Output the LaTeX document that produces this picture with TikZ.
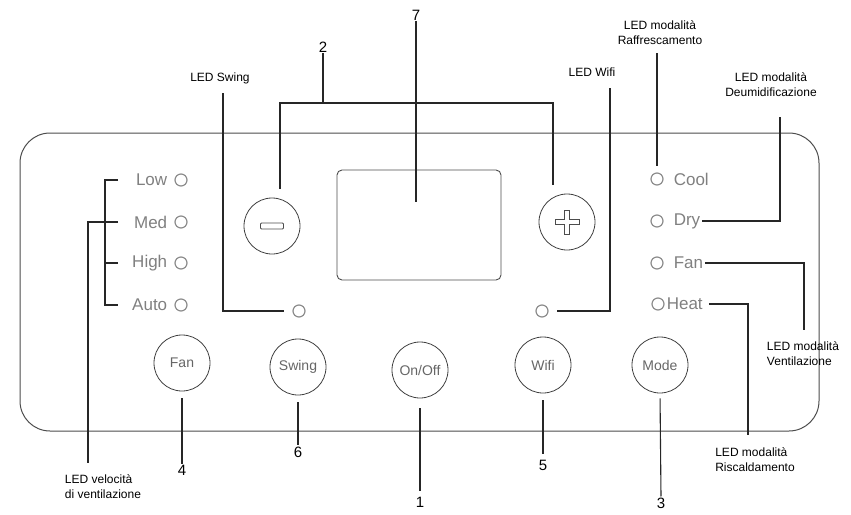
\documentclass[tikz,border=0pt]{standalone}
\usepackage{fontspec}
\setmainfont{Liberation Sans}
\usetikzlibrary{positioning}

\begin{document}
\begin{tikzpicture}
        [x=1pt, y=-1pt,
        node distance=4pt,
        lead/.style={line width=1.1pt, black!85},
        panel/.style={line width=1pt, draw=black!70},
        led/.style={circle, draw=black!45, line width=1.2pt, minimum size=12pt, inner sep=0pt},
        btn/.style={circle, draw=black!75, line width=0.8pt, minimum size=56pt, inner sep=0pt,
                font=\fontsize{14}{16}\selectfont, text=black!60},
        ledtxt/.style={font=\fontsize{17}{19}\selectfont, text=black!50, inner sep=2pt},
        callout/.style={font=\fontsize{12}{15}\selectfont, inner sep=1pt},
        num/.style={font=\fontsize{15}{17}\selectfont, inner sep=1pt}]

        \useasboundingbox (0,0) rectangle (851,514);

        \draw[panel, rounded corners=30pt] (20,133) rectangle (819,431);
        \draw[panel, line width=0.9pt, rounded corners=5pt] (337,170) rectangle (501,280);

        \node[btn] (minus) at (272,226) {};
        \node[btn] (plus) at (567,222) {};
        \draw[line width=0.8pt, black!70, rounded corners=1pt] ([shift={(-11.5,-3)}]minus.center) rectangle ([shift={(11.5,3)}]minus.center);
        \draw[line width=0.8pt, black!70] (plus.center) ++(-12,-2.5) -- ++(9.5,0) -- ++(0,-9.5) -- ++(5,0) -- ++(0,9.5)
                -- ++(9.5,0) -- ++(0,5) -- ++(-9.5,0) -- ++(0,9.5) -- ++(-5,0) -- ++(0,-9.5) -- ++(-9.5,0) -- cycle;

        \node[btn] (fanb) at (182,363) {Fan};
        \node[btn] (swingb) at (298,367) {Swing};
        \node[btn] (onoff) at (420,370) {On/Off};
        \node[btn] (wifib) at (543,365) {Wifi};
        \node[btn] (mode) at (660,365) {Mode};

        \node[led] (lowl) at (181,180) {};
        \node[led] (medl) at (181,222) {};
        \node[led] (highl) at (181,263) {};
        \node[led] (autol) at (181,305) {};
        \node[ledtxt] (lowt) [left=5pt of lowl] {Low};
        \node[ledtxt] (medt) [left=5pt of medl] {Med};
        \node[ledtxt] (hight) [left=5pt of highl] {High};
        \node[ledtxt] (autot) [left=5pt of autol] {Auto};

        \node[led] (cooll) at (657,179) {};
        \node[led] (dryl) at (657,221) {};
        \node[led] (fanl) at (657,263) {};
        \node[led] (heatl) at (658,304) {};
        \node[ledtxt] (coolt) [right=8pt of cooll] {Cool};
        \node[ledtxt] (dryt) [right=8pt of dryl] {Dry};
        \node[ledtxt] (fant) [right=8pt of fanl] {Fan};
        \node[ledtxt] (heatt) [right=0pt of heatl] {Heat};

        \node[led] (swl) at (299,311) {};
        \node[led] (wfl) at (542,311) {};

        \node[num] (seven) at (416,15) {7};
        \node[num] (two) at (323,47) {2};
        \node[num] (four) at (182,470) {4};
        \node[num] (six) at (298,452) {6};
        \node[num] (one) at (420,502) {1};
        \node[num] (five) at (543,465) {5};
        \node[num] (three) at (661,503) {3};

        \node[callout] (swlbl) at (220,78) {LED Swing};
        \node[callout] (wflbl) at (592,72) {LED Wifi};
        \node[callout, align=center] (raff) at (660,33) {LED modalità\\Raffrescamento};
        \node[callout, align=center] (deum) at (771,85) {LED modalità\\Deumidificazione};
        \node[callout, align=left] (vent) at (803,354) {LED modalità\\Ventilazione};
        \node[callout, align=left] (risc) at (755,460) {LED modalità\\Riscaldamento};
        \node[callout, align=left] (velo) at (103,487) {LED velocità\\di ventilazione};

        \coordinate (br2) at (323,103);
        \coordinate (sevenend) at (416,202);
        \coordinate (swtop) at (223,93);
        \coordinate (wftop) at (610,88);
        \coordinate (raffend) at (657,53);
        \coordinate (deumend) at (780,117);
        \coordinate (ventend) at (804,330);
        \coordinate (riscend) at (748,435);
        \coordinate (veloend) at (88,463);
        \coordinate (spine) at (105,0);
        \coordinate (tick) at (118,0);

        \draw[lead] (seven.south) -- (sevenend);
        \draw[lead] (two.south) -- (br2);
        \draw[lead, shorten <=9pt, shorten >=9pt] ([xshift=8pt]minus.north) |- (br2) -| ([xshift=-14pt]plus.north);

        \draw[lead, shorten >=15pt] (swtop) |- (swl.center);
        \draw[lead, shorten >=15pt] (wftop) |- (wfl.center);
        \draw[lead, shorten >=6pt] (raffend) -- (cooll);
        \draw[lead] (dryt.east) -| (deumend);
        \draw[lead] (fant.east) -| (ventend);
        \draw[lead] ([xshift=4pt]heatt.east) -| (riscend);

        \draw[lead] (tick |- lowl) -| (spine |- autol) -- (tick |- autol);
        \draw[lead] (tick |- medl) -- (spine |- medl);
        \draw[lead] (tick |- highl) -- (spine |- highl);
        \draw[lead] (spine |- medl) -| (veloend);

        \draw[lead, shorten <=7pt] (fanb.south) -- (four.north);
        \draw[lead, shorten <=7pt] (swingb.south) -- (six.north);
        \draw[lead, shorten <=10pt, shorten >=5pt] (onoff.south) -- (one.north);
        \draw[lead, shorten <=7pt, shorten >=5pt] (wifib.south) -- (five.north);
        \draw[lead, shorten <=5pt] (mode.south) -- (three.north);
\end{tikzpicture}
\end{document}
